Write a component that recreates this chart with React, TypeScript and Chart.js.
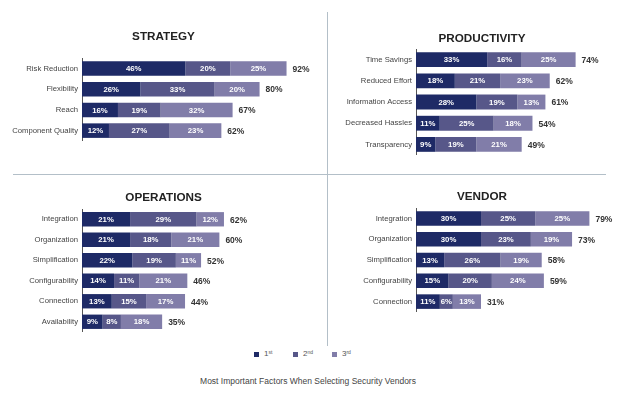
import React, { useEffect, useRef } from 'react';
import { Chart, registerables } from 'chart.js';

Chart.register(...registerables);

const FONT = "'Liberation Sans', Arial, Helvetica, sans-serif";
const COLOR_1ST = '#1e2a66';
const COLOR_2ND = '#575789';
const COLOR_3RD = '#817da9';

// STRATEGY
const strategyCategories = ['Risk Reduction', 'Flexibility', 'Reach', 'Component Quality'];
const strategyFirst = [46, 26, 16, 12];
const strategySecond = [20, 33, 19, 27];
const strategyThird = [25, 20, 32, 23];
const strategyTotals = [92, 80, 67, 62];

// PRODUCTIVITY
const productivityCategories = ['Time Savings', 'Reduced Effort', 'Information Access', 'Decreased Hassles', 'Transparency'];
const productivityFirst = [33, 18, 28, 11, 9];
const productivitySecond = [16, 21, 19, 25, 19];
const productivityThird = [25, 23, 13, 18, 21];
const productivityTotals = [74, 62, 61, 54, 49];

// OPERATIONS
const operationsCategories = ['Integration', 'Organization', 'Simplification', 'Configurability', 'Connection', 'Availability'];
const operationsFirst = [21, 21, 22, 14, 13, 9];
const operationsSecond = [29, 18, 19, 11, 15, 8];
const operationsThird = [12, 21, 11, 21, 17, 18];
const operationsTotals = [62, 60, 52, 46, 44, 35];

// VENDOR
const vendorCategories = ['Integration', 'Organization', 'Simplification', 'Configurability', 'Connection'];
const vendorFirst = [30, 30, 13, 15, 11];
const vendorSecond = [25, 23, 26, 20, 6];
const vendorThird = [25, 19, 19, 24, 13];
const vendorTotals = [79, 73, 58, 59, 31];

const seriesLabels = ['1st', '2nd', '3rd'];
const chartTitle = 'Most Important Factors When Selecting Security Vendors';

type PanelProps = {
  title: string;
  categories: string[];
  first: number[];
  second: number[];
  third: number[];
  totals: number[];
  left: number;
  top: number;
  width: number;
  height: number;
  axisWidth: number;
  xMax: number;
  titlePadTop: number;
  titlePadBottom: number;
};

function Panel(p: PanelProps) {
  const ref = useRef<HTMLCanvasElement>(null);
  useEffect(() => {
    if (!ref.current) return;
    const labelPlugin = {
      id: 'segLabels',
      afterDatasetsDraw(chart: any) {
        const ctx = chart.ctx;
        ctx.save();
        ctx.textBaseline = 'middle';
        chart.data.datasets.forEach((ds: any, di: number) => {
          const meta = chart.getDatasetMeta(di);
          meta.data.forEach((bar: any, i: number) => {
            const v = ds.data[i];
            const cx = (bar.x + bar.base) / 2;
            ctx.fillStyle = '#ffffff';
            ctx.font = `bold 7.8px ${FONT}`;
            ctx.textAlign = 'center';
            ctx.fillText(v + '%', cx, bar.y + 0.5);
          });
        });
        const last = chart.getDatasetMeta(chart.data.datasets.length - 1);
        last.data.forEach((bar: any, i: number) => {
          ctx.fillStyle = '#333333';
          ctx.font = `bold 8.5px ${FONT}`;
          ctx.textAlign = 'left';
          ctx.fillText(p.totals[i] + '%', bar.x + 6, bar.y + 1);
        });
        ctx.restore();
      },
    };
    const chart = new Chart(ref.current, {
      type: 'bar',
      data: {
        labels: p.categories,
        datasets: [
          { label: seriesLabels[0], data: p.first, backgroundColor: COLOR_1ST },
          { label: seriesLabels[1], data: p.second, backgroundColor: COLOR_2ND },
          { label: seriesLabels[2], data: p.third, backgroundColor: COLOR_3RD },
        ],
      },
      options: {
        responsive: false,
        animation: false,
        indexAxis: 'y',
        layout: { padding: 0 },
        datasets: { bar: { categoryPercentage: 1, barPercentage: 0.7 } },
        plugins: {
          legend: { display: false },
          tooltip: { enabled: false },
          title: {
            display: true,
            text: p.title,
            color: '#222222',
            font: { family: FONT, size: 11.7, weight: 'bold', lineHeight: 1.2 },
            padding: { top: p.titlePadTop, bottom: p.titlePadBottom },
          },
        },
        scales: {
          x: { display: false, stacked: true, min: 0, max: p.xMax },
          y: {
            stacked: true,
            grid: { display: false, drawTicks: false },
            border: { display: true, color: '#555555', width: 1 },
            ticks: { padding: 4, color: '#444444', font: { family: FONT, size: 7.7 } },
            afterFit: (s: any) => {
              s.width = p.axisWidth;
              s.paddingTop = 0;
              s.paddingBottom = 0;
            },
          },
        },
      } as any,
      plugins: [labelPlugin],
    });
    return () => chart.destroy();
  }, []);
  return (
    <canvas
      ref={ref}
      width={p.width}
      height={p.height}
      style={{ position: 'absolute', left: p.left, top: p.top, width: p.width, height: p.height }}
    />
  );
}

function LegendItem({ color, main, sup, left }: { color: string; main: string; sup: string; left: number }) {
  return (
    <div style={{ position: 'absolute', left, top: 347, height: 14, display: 'flex', alignItems: 'center' }}>
      <div style={{ width: 5, height: 5, background: color, marginRight: 5 }} />
      <span style={{ fontFamily: FONT, fontSize: 8, color: '#555', lineHeight: '14px' }}>
        {main}
        <sup style={{ fontSize: 5, verticalAlign: 'top', lineHeight: '10px' }}>{sup}</sup>
      </span>
    </div>
  );
}

export default function App() {
  const divider = '#b3bfc8';
  return (
    <div style={{ position: 'absolute', left: 0, top: 0, width: 636, height: 399, background: '#fff', overflow: 'hidden' }}>
      <Panel
        title="STRATEGY"
        categories={strategyCategories}
        first={strategyFirst}
        second={strategySecond}
        third={strategyThird}
        totals={strategyTotals}
        left={0}
        top={20}
        width={327}
        height={121}
        axisWidth={82}
        xMax={109}
        titlePadTop={9.7}
        titlePadBottom={14.3}
      />
      <Panel
        title="PRODUCTIVITY"
        categories={productivityCategories}
        first={productivityFirst}
        second={productivitySecond}
        third={productivityThird}
        totals={productivityTotals}
        left={328}
        top={20}
        width={308}
        height={135}
        axisWidth={88}
        xMax={102}
        titlePadTop={11.3}
        titlePadBottom={3.7}
      />
      <Panel
        title="OPERATIONS"
        categories={operationsCategories}
        first={operationsFirst}
        second={operationsSecond}
        third={operationsThird}
        totals={operationsTotals}
        left={0}
        top={180}
        width={327}
        height={152}
        axisWidth={82}
        xMax={107}
        titlePadTop={10.3}
        titlePadBottom={4.7}
      />
      <Panel
        title="VENDOR"
        categories={vendorCategories}
        first={vendorFirst}
        second={vendorSecond}
        third={vendorThird}
        totals={vendorTotals}
        left={328}
        top={180}
        width={308}
        height={132}
        axisWidth={88}
        xMax={101.5}
        titlePadTop={9.7}
        titlePadBottom={4.3}
      />
      <div style={{ position: 'absolute', left: 326.5, top: 12, width: 1.5, height: 334, background: divider }} />
      <div style={{ position: 'absolute', left: 13, top: 173.8, width: 593, height: 1.5, background: divider }} />
      <LegendItem color={COLOR_1ST} main="1" sup="st" left={254} />
      <LegendItem color={COLOR_2ND} main="2" sup="nd" left={293} />
      <LegendItem color={COLOR_3RD} main="3" sup="rd" left={332} />
      <div
        style={{
          position: 'absolute',
          left: 0,
          top: 375,
          width: 616,
          textAlign: 'center',
          fontFamily: FONT,
          fontSize: 8.5,
          lineHeight: '12px',
          color: '#444',
        }}
      >
        {chartTitle}
      </div>
    </div>
  );
}
